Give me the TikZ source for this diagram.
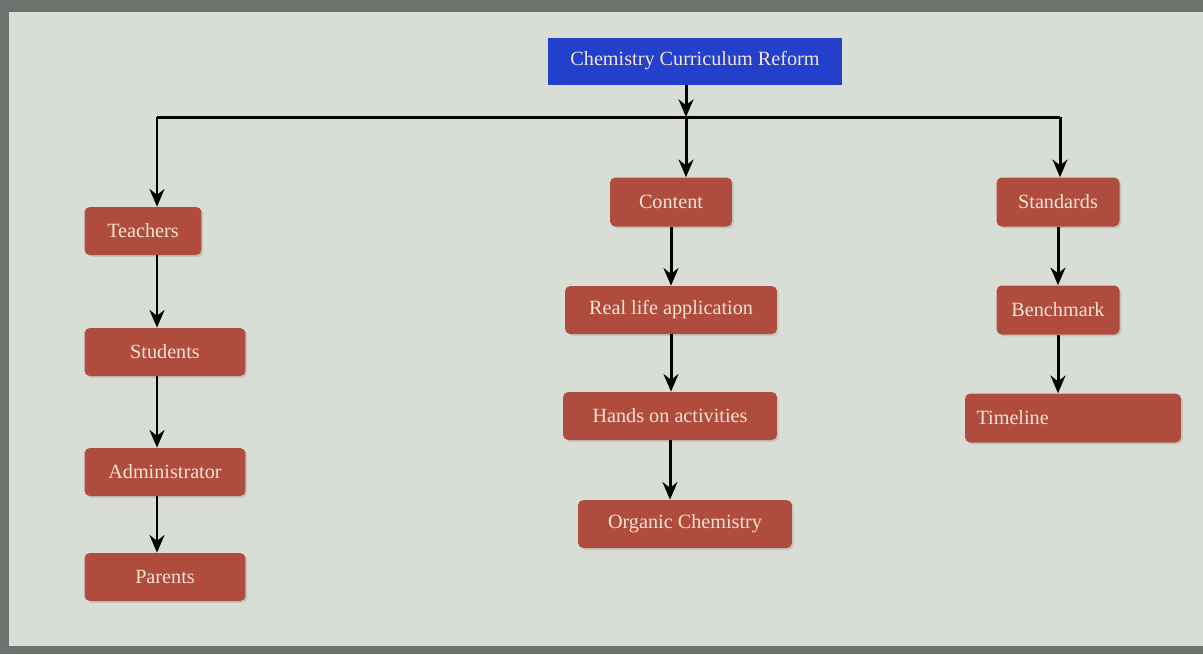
\documentclass[tikz,border=0pt]{standalone}
\usepackage{fontspec}
\setmainfont{Liberation Serif}
\usetikzlibrary{arrows.meta,shadows}
\definecolor{boxred}{RGB}{176,76,62}
\definecolor{boxblue}{RGB}{34,64,204}
\definecolor{boxtext}{RGB}{244,228,214}
\definecolor{screen}{RGB}{216,221,214}
\definecolor{frame}{RGB}{110,114,110}
\begin{document}
\begin{tikzpicture}[x=0.02cm, y=-0.02cm,
    redbox/.style={fill=boxred, rounded corners=3pt, text=boxtext, font=\fontsize{11.5}{13}\selectfont,
      inner sep=0pt, drop shadow={opacity=0.25, shadow xshift=1pt, shadow yshift=-1pt}},
    link/.style={line width=1.7pt, -{Stealth[length=10pt,width=8.5pt]}}]
    \useasboundingbox (0,0) rectangle (1203,654);
    \fill[frame] (0,0) rectangle (1203,654);
    \fill[screen] (9,12) rectangle (1203,646);
    \node[fill=boxblue, text=boxtext, font=\fontsize{11.5}{13}\selectfont, minimum width=5.88cm, minimum height=0.94cm, inner sep=0pt] (R) at (695,61) {Chemistry Curriculum Reform};
    % left column
    \node[redbox, minimum width=2.34cm, minimum height=0.96cm] (T1) at (143,231) {Teachers};
    \node[redbox, minimum width=3.22cm, minimum height=0.96cm] (T2) at (165,352) {Students};
    \node[redbox, minimum width=3.22cm, minimum height=0.96cm] (T3) at (165,472) {Administrator};
    \node[redbox, minimum width=3.22cm, minimum height=0.96cm] (T4) at (165,577) {Parents};
    % middle column
    \node[redbox, minimum width=2.44cm, minimum height=0.98cm] (C1) at (671,202) {Content};
    \node[redbox, minimum width=4.24cm, minimum height=0.96cm] (C2) at (671,310) {Real life application};
    \node[redbox, minimum width=4.28cm, minimum height=0.96cm] (C3) at (670,416) {Hands on activities};
    \node[redbox, minimum width=4.28cm, minimum height=0.96cm] (C4) at (685,524) {Organic Chemistry};
    % right column
    \node[redbox, minimum width=2.46cm, minimum height=0.98cm] (S1) at (1058,202) {Standards};
    \node[redbox, minimum width=2.46cm, minimum height=0.98cm] (S2) at (1058,310) {Benchmark};
    \node[redbox, minimum width=4.32cm, minimum height=0.98cm, text width=3.86cm, align=left] (S3) at (1073,418) {Timeline};
    % the bar
    \coordinate (BL) at (157,117);
    \coordinate (BC) at (686,117);
    \coordinate (BR) at (1060,117);
    \draw[line width=1.7pt] (BL) -- (BR);
    \draw[link] (R.south -| BC) -- (BC);
    \draw[link] (BL) -- (BL |- T1.north);
    \draw[link] (BC) -- (BC |- C1.north);
    \draw[link] (BR) -- (BR |- S1.north);
    \draw[link] (T1.south -| BL) -- (BL |- T2.north);
    \draw[link] (T2.south -| BL) -- (BL |- T3.north);
    \draw[link] (T3.south -| BL) -- (BL |- T4.north);
    \draw[link] (C1) -- (C2);
    \draw[link] (C2.south) -- (C2.south |- C3.north);
    \draw[link] (C3.south) -- (C3.south |- C4.north);
    \draw[link] (S1) -- (S2);
    \draw[link] (S2.south) -- (S2.south |- S3.north);
  \end{tikzpicture}
\end{document}
